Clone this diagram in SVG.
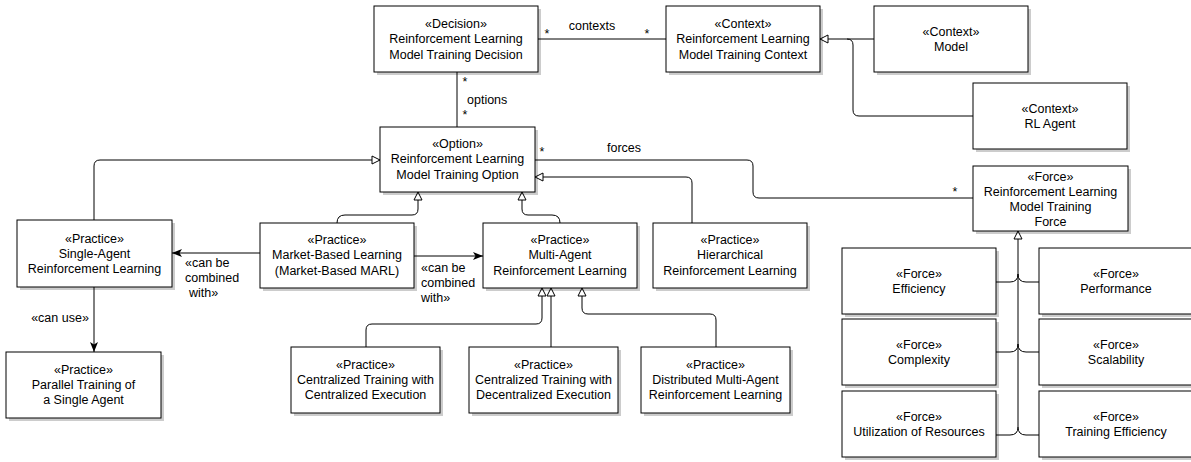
<svg xmlns="http://www.w3.org/2000/svg" width="1191" height="462" viewBox="0 0 1191 462">
<style>
.box{fill:#fff;stroke:#000;stroke-width:1}
.sh{fill:#000;opacity:0.2}
text{font-family:"Liberation Sans",Arial,Helvetica,sans-serif;font-size:12.5px;fill:#000}
.c{text-anchor:middle}
.ln{fill:none;stroke:#000;stroke-width:1}
</style>
<defs>
<marker id="tri" markerWidth="12" markerHeight="12" refX="8" refY="4" orient="auto" markerUnits="userSpaceOnUse" overflow="visible"><path d="M0,0 L8,4 L0,8 z" fill="#fff" stroke="#000" stroke-width="1"/></marker>
<marker id="arr" markerWidth="12" markerHeight="12" refX="10" refY="4" orient="auto" markerUnits="userSpaceOnUse" overflow="visible"><path d="M0,0 L10,4 L0,8 L2.5,4 z" fill="#000"/></marker>
</defs>
<g id="connectors">
<path class="ln" d="M538,39 H666"/>
<path class="ln" d="M973,116 H859 Q853,116 853,110 V45 Q853,39 847,39"/>
<path class="ln" d="M874,39 H820" marker-end="url(#tri)"/>
<path class="ln" d="M457,72 V127"/>
<path class="ln" d="M94,220 V166 Q94,160 100,160 H380" marker-end="url(#tri)"/>
<path class="ln" d="M337,223 Q337,215 345,215 H412 Q418,215 418,209 V192" marker-end="url(#tri)"/>
<path class="ln" d="M560,223 Q560,215 552,215 H528 Q522,215 522,209 V192" marker-end="url(#tri)"/>
<path class="ln" d="M692,223 V183 Q692,177 686,177 H535" marker-end="url(#tri)"/>
<path class="ln" d="M535,160 H747 Q753,160 753,166 V192 Q753,198 759,198 H973"/>
<path class="ln" d="M260,253 H172" marker-end="url(#arr)"/>
<path class="ln" d="M414,256 H483" marker-end="url(#arr)"/>
<path class="ln" d="M94,287 V352" marker-end="url(#arr)"/>
<path class="ln" d="M366,347 V330 Q366,324 372,324 H536 Q542,324 542,318 V288" marker-end="url(#tri)"/>
<path class="ln" d="M551,347 V288" marker-end="url(#tri)"/>
<path class="ln" d="M716,347 V320 Q716,314 710,314 H588 Q582,314 582,308 V288" marker-end="url(#tri)"/>
<path class="ln" d="M1018,427 V231" marker-end="url(#tri)"/>
<path class="ln" d="M996,282 H1010 Q1018,282 1018,274"/>
<path class="ln" d="M1039,282 H1026 Q1018,282 1018,274"/>
<path class="ln" d="M996,352 H1010 Q1018,352 1018,344"/>
<path class="ln" d="M1039,352 H1026 Q1018,352 1018,344"/>
<path class="ln" d="M996,435 H1010 Q1018,435 1018,427"/>
<path class="ln" d="M1039,435 H1026 Q1018,435 1018,427"/>
<text x="547" y="38" class="c">*</text>
<text x="592" y="30" class="c">contexts</text>
<text x="647" y="38" class="c">*</text>
<text x="465" y="86" class="c">*</text>
<text x="467" y="104">options</text>
<text x="465" y="119" class="c">*</text>
<text x="542" y="156" class="c">*</text>
<text x="624" y="152" class="c">forces</text>
<text x="955" y="196" class="c">*</text>
<text x="185" y="267">«can be</text>
<text x="185" y="282">combined</text>
<text x="189" y="297">with»</text>
<text x="421" y="272">«can be</text>
<text x="421" y="287">combined</text>
<text x="421" y="302">with»</text>
<text x="60" y="322" class="c">«can use»</text>
</g>
<g id="decision">
<rect class="sh" x="377" y="9" width="164" height="66"/><rect class="box" x="374" y="6" width="164" height="66"/>
<text x="456" y="28" class="c">«Decision»</text><text x="456" y="43" class="c">Reinforcement Learning</text><text x="456" y="59" class="c">Model Training Decision</text>
</g>
<g id="context">
<rect class="sh" x="669" y="9" width="154" height="66"/><rect class="box" x="666" y="6" width="154" height="66"/>
<text x="743" y="28" class="c">«Context»</text><text x="743" y="43" class="c">Reinforcement Learning</text><text x="743" y="59" class="c">Model Training Context</text>
</g>
<g id="context-model">
<rect class="sh" x="877" y="9" width="154" height="66"/><rect class="box" x="874" y="6" width="154" height="66"/>
<text x="951" y="36" class="c">«Context»</text><text x="951" y="51" class="c">Model</text>
</g>
<g id="context-rlagent">
<rect class="sh" x="976" y="86" width="154" height="66"/><rect class="box" x="973" y="83" width="154" height="66"/>
<text x="1050" y="113" class="c">«Context»</text><text x="1050" y="128" class="c">RL Agent</text>
</g>
<g id="option">
<rect class="sh" x="383" y="130" width="155" height="65"/><rect class="box" x="380" y="127" width="155" height="65"/>
<text x="457.5" y="148" class="c">«Option»</text><text x="457.5" y="163" class="c">Reinforcement Learning</text><text x="457.5" y="179" class="c">Model Training Option</text>
</g>
<g id="single-agent">
<rect class="sh" x="20" y="223" width="155" height="67"/><rect class="box" x="17" y="220" width="155" height="67"/>
<text x="94.5" y="243" class="c">«Practice»</text><text x="94.5" y="258" class="c">Single-Agent</text><text x="94.5" y="273" class="c">Reinforcement Learning</text>
</g>
<g id="market-based">
<rect class="sh" x="263" y="226" width="154" height="65"/><rect class="box" x="260" y="223" width="154" height="65"/>
<text x="337" y="244" class="c">«Practice»</text><text x="337" y="259" class="c">Market-Based Learning</text><text x="337" y="275" class="c">(Market-Based MARL)</text>
</g>
<g id="marl">
<rect class="sh" x="486" y="226" width="154" height="65"/><rect class="box" x="483" y="223" width="154" height="65"/>
<text x="560" y="244" class="c">«Practice»</text><text x="560" y="259" class="c">Multi-Agent</text><text x="560" y="275" class="c">Reinforcement Learning</text>
</g>
<g id="hierarchical">
<rect class="sh" x="656" y="226" width="154" height="65"/><rect class="box" x="653" y="223" width="154" height="65"/>
<text x="730" y="244" class="c">«Practice»</text><text x="730" y="259" class="c">Hierarchical</text><text x="730" y="275" class="c">Reinforcement Learning</text>
</g>
<g id="force">
<rect class="sh" x="976" y="169" width="155" height="65"/><rect class="box" x="973" y="166" width="155" height="65"/>
<text x="1050.5" y="181" class="c">«Force»</text><text x="1050.5" y="196" class="c">Reinforcement Learning</text><text x="1050.5" y="211" class="c">Model Training</text><text x="1050.5" y="226" class="c">Force</text>
</g>
<g id="efficiency">
<rect class="sh" x="845" y="251" width="154" height="66"/><rect class="box" x="842" y="248" width="154" height="66"/>
<text x="919" y="278" class="c">«Force»</text><text x="919" y="293" class="c">Efficiency</text>
</g>
<g id="performance">
<rect class="sh" x="1042" y="251" width="154" height="66"/><rect class="box" x="1039" y="248" width="154" height="66"/>
<text x="1116" y="278" class="c">«Force»</text><text x="1116" y="293" class="c">Performance</text>
</g>
<g id="complexity">
<rect class="sh" x="845" y="322" width="154" height="66"/><rect class="box" x="842" y="319" width="154" height="66"/>
<text x="919" y="349" class="c">«Force»</text><text x="919" y="364" class="c">Complexity</text>
</g>
<g id="scalability">
<rect class="sh" x="1042" y="322" width="154" height="66"/><rect class="box" x="1039" y="319" width="154" height="66"/>
<text x="1116" y="349" class="c">«Force»</text><text x="1116" y="364" class="c">Scalability</text>
</g>
<g id="utilization">
<rect class="sh" x="845" y="394" width="154" height="66"/><rect class="box" x="842" y="391" width="154" height="66"/>
<text x="919" y="421" class="c">«Force»</text><text x="919" y="436" class="c">Utilization of Resources</text>
</g>
<g id="training-efficiency">
<rect class="sh" x="1042" y="394" width="154" height="66"/><rect class="box" x="1039" y="391" width="154" height="66"/>
<text x="1116" y="421" class="c">«Force»</text><text x="1116" y="436" class="c">Training Efficiency</text>
</g>
<g id="parallel">
<rect class="sh" x="9" y="355" width="155" height="66"/><rect class="box" x="6" y="352" width="155" height="66"/>
<text x="83.5" y="374" class="c">«Practice»</text><text x="83.5" y="389" class="c">Parallel Training of</text><text x="83.5" y="404" class="c">a Single Agent</text>
</g>
<g id="ctce">
<rect class="sh" x="294" y="350" width="149" height="66"/><rect class="box" x="291" y="347" width="149" height="66"/>
<text x="365.5" y="369" class="c">«Practice»</text><text x="365.5" y="384" class="c">Centralized Training with</text><text x="365.5" y="399" class="c">Centralized Execution</text>
</g>
<g id="ctde">
<rect class="sh" x="472" y="350" width="149" height="66"/><rect class="box" x="469" y="347" width="149" height="66"/>
<text x="543.5" y="369" class="c">«Practice»</text><text x="543.5" y="384" class="c">Centralized Training with</text><text x="543.5" y="399" class="c">Decentralized Execution</text>
</g>
<g id="dmarl">
<rect class="sh" x="644" y="350" width="149" height="66"/><rect class="box" x="641" y="347" width="149" height="66"/>
<text x="715.5" y="369" class="c">«Practice»</text><text x="715.5" y="384" class="c">Distributed Multi-Agent</text><text x="715.5" y="399" class="c">Reinforcement Learning</text>
</g>
</svg>
